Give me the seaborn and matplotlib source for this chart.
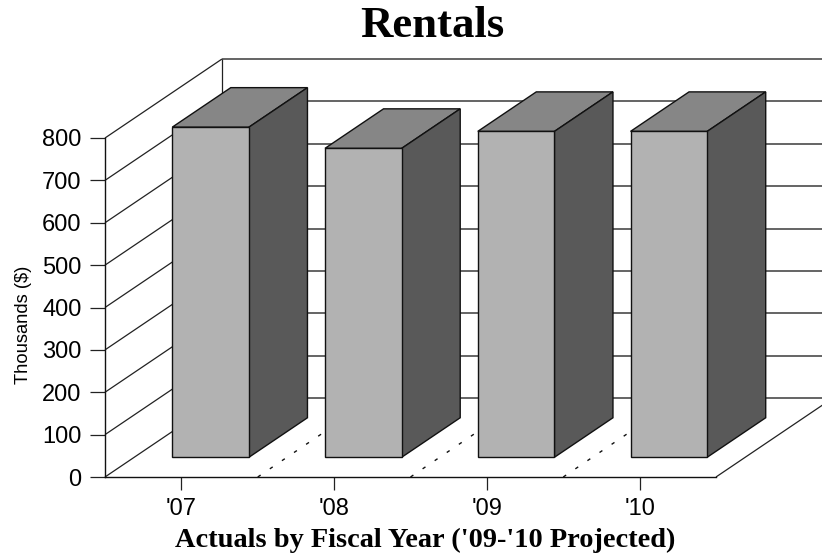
import matplotlib
matplotlib.use("Agg")
import matplotlib.pyplot as plt
from matplotlib.patches import Polygon
from matplotlib.transforms import IdentityTransform, ScaledTranslation
import pandas as pd
import seaborn as sns

# Chart values
years = ["'07", "'08", "'09", "'10"]
rentals = [779, 729, 769, 769]
y_ticks = [0, 100, 200, 300, 400, 500, 600, 700, 800]

# Colours of the three visible box faces
FRONT = "#b2b2b2"
TOP = "#868686"
SIDE = "#595959"
EDGE = "#111111"

# Oblique projection: pixels moved per unit of depth, and the box extent in depth
W, H = 822, 554
DEPTH_PX = (117, 79)
BOX_NEAR, BOX_FAR = 0.25, 0.75
BAR_WIDTH = 0.502

sns.set_theme(style="white")
plt.rcParams["font.family"] = ["Liberation Sans", "DejaVu Sans"]

fig = plt.figure(figsize=(W / 100, H / 100), dpi=100, facecolor="white")
ax = fig.add_axes([105 / W, (H - 477) / H, (716 - 105) / W, (477 - 138) / H])

df = pd.DataFrame({"year": years, "rentals": rentals})
sns.barplot(data=df, x="year", y="rentals", color=FRONT, saturation=1,
            width=BAR_WIDTH, edgecolor=EDGE, linewidth=1.0, ax=ax, zorder=5)
ax.set_xlim(-0.5, 3.5)
ax.set_ylim(0, 800)
ax.set_yticks(y_ticks)


def project(x, v, d):
    """Display position of a data point pushed back by depth d."""
    px, py = ax.transData.transform((x, v))
    return (px + d * DEPTH_PX[0], py + d * DEPTH_PX[1])


def shifted(d):
    return ax.transData + ScaledTranslation(
        d * DEPTH_PX[0] / 100, d * DEPTH_PX[1] / 100, fig.dpi_scale_trans)


def line(p, q, **kw):
    ax.plot([p[0], q[0]], [p[1], q[1]], transform=IdentityTransform(),
            clip_on=False, **kw)


# Left wall, back wall and floor
wall = dict(color="#222222", lw=0.9, zorder=1, solid_capstyle="butt")
back = dict(color="#3a3a3a", lw=1.1, zorder=1, solid_capstyle="butt")
for v in y_ticks:
    line(project(-0.5, v, 0), project(-0.5, v, 1), **wall)
    line(project(-0.5, v, 1), project(3.5, v, 1), **back)
line(project(-0.5, 0, 1), project(-0.5, 800, 1), **wall)
line(project(3.5, 0, 0), project(3.5, 0, 1), **wall)

# Dotted floor dividers between the categories
for b in (0.5, 1.5, 2.5):
    line(project(b, 0, 0), project(b, 0, 1), color="#111111", lw=1.0,
         linestyle=(0, (2.5, 8)), zorder=1)

# Push each front face back and add its top and side faces
front_bars = list(ax.patches)
for bar in front_bars:
    x0 = bar.get_x()
    x1 = x0 + bar.get_width()
    v = bar.get_height()
    bar.set_transform(shifted(BOX_NEAR))
    bar.set_clip_on(False)
    top = [project(x0, v, BOX_NEAR), project(x1, v, BOX_NEAR),
           project(x1, v, BOX_FAR), project(x0, v, BOX_FAR)]
    side = [project(x1, 0, BOX_NEAR), project(x1, v, BOX_NEAR),
            project(x1, v, BOX_FAR), project(x1, 0, BOX_FAR)]
    for verts, colour in ((top, TOP), (side, SIDE)):
        ax.add_patch(Polygon(verts, closed=True, facecolor=colour, edgecolor=EDGE,
                             linewidth=1.0, transform=IdentityTransform(),
                             clip_on=False, zorder=4))

# Axes dressing
for name in ("top", "right"):
    ax.spines[name].set_visible(False)
for name in ("left", "bottom"):
    ax.spines[name].set_color("#111111")
    ax.spines[name].set_linewidth(1.0)
ax.tick_params(axis="x", length=9.4, width=0.9, color="#222222", pad=6,
               labelsize=17, labelcolor="black", bottom=True)
ax.tick_params(axis="y", length=10.8, width=0.9, color="#222222", pad=6,
               labelsize=17, labelcolor="black", left=True)

ax.set_ylabel("Thousands ($)", fontsize=13.2, color="black")
ax.yaxis.set_label_coords((23 - 105) / (716 - 105), (477 - 325) / (477 - 138))
ax.yaxis.label.set_verticalalignment("center")

serif = ["Liberation Serif", "DejaVu Serif"]
ax.set_xlabel("Actuals by Fiscal Year ('09-'10 Projected)", fontsize=20.4,
              fontweight="bold", family=serif, color="black")
ax.xaxis.set_label_coords((425.5 - 105) / (716 - 105), (477 - 540) / (477 - 138))
ax.xaxis.label.set_verticalalignment("center")

fig.text(432 / W, (H - 26) / H, "Rentals", fontsize=32.2, fontweight="bold",
         family=serif, color="black", ha="center", va="center")

fig.savefig("out.png", dpi=100, facecolor="white")
